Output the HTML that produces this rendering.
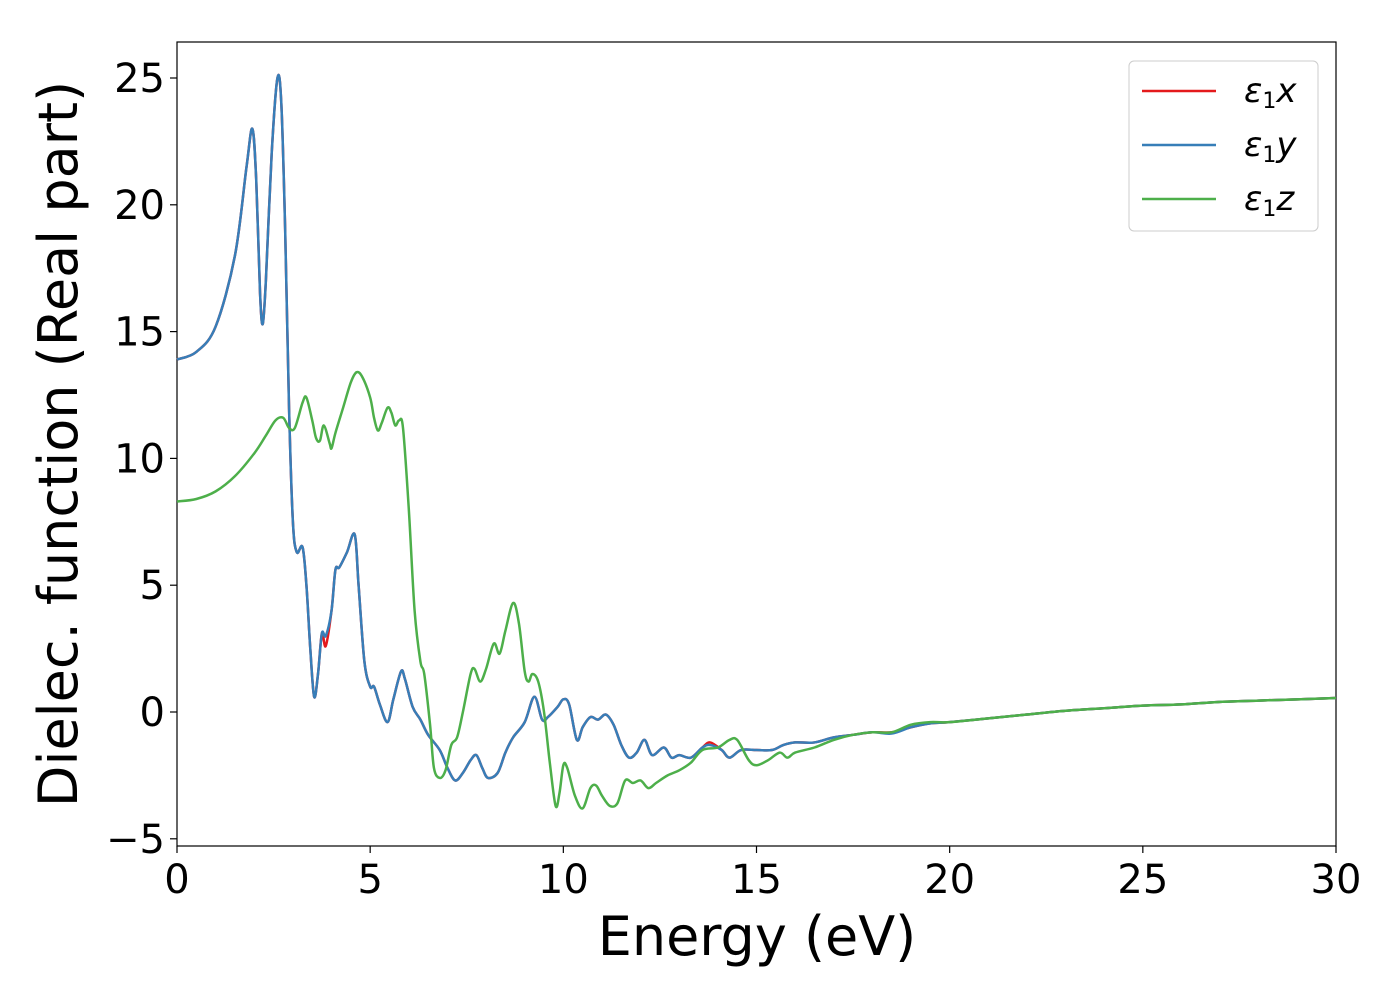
<!DOCTYPE html>
<html><head><meta charset="utf-8"><style>
body{margin:0;background:#fff;}
svg{display:block;font-family:"DejaVu Sans","Liberation Sans",sans-serif;}
</style></head><body>
<svg id="chart" width="1400" height="1000">
<rect x="177" y="42" width="1159" height="804" fill="#fff" stroke="#000" stroke-width="1.2"/>
<g id="series"></g>
<g id="axes"></g>
<text x="757" y="955" font-size="54" text-anchor="middle">Energy (eV)</text>
<text transform="translate(77,444) rotate(-90)" font-size="54" text-anchor="middle">Dielec. function (Real part)</text>
<g>
<rect x="1129" y="61" width="189" height="170" rx="5" fill="#fff" stroke="#ccc" stroke-width="1"/>
<line x1="1142" y1="91" x2="1216" y2="91" stroke="#e41a1c" stroke-width="2.5"/>
<text x="1244" y="102" font-size="34" font-style="italic">ε<tspan font-size="22" dy="6" font-style="normal">1</tspan><tspan dy="-6">x</tspan></text>
<line x1="1142" y1="145" x2="1216" y2="145" stroke="#377eb8" stroke-width="2.5"/>
<text x="1244" y="156" font-size="34" font-style="italic">ε<tspan font-size="22" dy="6" font-style="normal">1</tspan><tspan dy="-6">y</tspan></text>
<line x1="1142" y1="199" x2="1216" y2="199" stroke="#4daf4a" stroke-width="2.5"/>
<text x="1244" y="210" font-size="34" font-style="italic">ε<tspan font-size="22" dy="6" font-style="normal">1</tspan><tspan dy="-6">z</tspan></text>
</g>
</svg>
<script>
const xTicks=[0,5,10,15,20,25,30];
const yTicks=[-5,0,5,10,15,20,25];
const yTickLabels=["−5","0","5","10","15","20","25"];
const energyXY=[0,0.5,1.0,1.5,1.8,1.95,2.05,2.15,2.22,2.3,2.45,2.6,2.7,2.8,2.9,3.0,3.1,3.25,3.35,3.45,3.55,3.65,3.75,3.85,4.0,4.1,4.2,4.4,4.6,4.7,4.85,5.0,5.1,5.25,5.45,5.6,5.8,5.9,6.1,6.3,6.5,6.8,7.0,7.2,7.4,7.6,7.75,7.9,8.05,8.3,8.5,8.7,9.0,9.25,9.45,9.6,9.85,10.0,10.15,10.35,10.5,10.7,10.9,11.1,11.3,11.5,11.7,11.9,12.1,12.3,12.6,12.8,13.0,13.3,13.6,13.8,14.1,14.3,14.6,15.0,15.4,15.7,16.0,16.5,17,17.5,18,18.5,19,19.5,20,21,22,23,24,25,26,27,28,29,30];
const epsX=[13.9,14.2,15.2,18,21.5,23,21,16.5,15.3,17,22,25,24,19,12,7.5,6.3,6.5,5,2.5,0.6,1.5,3.1,2.6,4,5.6,5.7,6.3,7.0,5,2,1,1.0,0.3,-0.4,0.5,1.6,1.3,0.2,-0.3,-0.9,-1.5,-2.2,-2.7,-2.4,-1.9,-1.7,-2.2,-2.6,-2.4,-1.6,-1.0,-0.4,0.6,-0.3,-0.2,0.2,0.5,0.3,-1.1,-0.6,-0.2,-0.3,-0.1,-0.5,-1.3,-1.8,-1.6,-1.1,-1.7,-1.4,-1.8,-1.7,-1.8,-1.4,-1.2,-1.5,-1.8,-1.5,-1.5,-1.5,-1.3,-1.2,-1.2,-1.0,-0.9,-0.8,-0.8,-0.6,-0.45,-0.4,-0.25,-0.1,0.05,0.15,0.25,0.3,0.4,0.45,0.5,0.55];
const epsY=[13.9,14.2,15.2,18,21.5,23,21,16.5,15.3,17,22,25,24,19,12,7.5,6.3,6.5,5,2.5,0.6,1.5,3.1,3.0,4,5.6,5.7,6.3,7.0,5,2,1,1.0,0.3,-0.4,0.5,1.6,1.3,0.2,-0.3,-0.9,-1.5,-2.2,-2.7,-2.4,-1.9,-1.7,-2.2,-2.6,-2.4,-1.6,-1.0,-0.4,0.6,-0.3,-0.2,0.2,0.5,0.3,-1.1,-0.6,-0.2,-0.3,-0.1,-0.5,-1.3,-1.8,-1.6,-1.1,-1.7,-1.4,-1.8,-1.7,-1.8,-1.4,-1.3,-1.5,-1.8,-1.5,-1.5,-1.5,-1.3,-1.2,-1.2,-1.0,-0.9,-0.8,-0.85,-0.6,-0.45,-0.4,-0.25,-0.1,0.05,0.15,0.25,0.3,0.4,0.45,0.5,0.55];
const energyZ=[0,0.5,1.0,1.5,2.0,2.3,2.55,2.75,2.9,3.05,3.25,3.35,3.5,3.6,3.7,3.8,3.95,4.0,4.1,4.3,4.5,4.65,4.8,5.0,5.1,5.2,5.3,5.45,5.55,5.65,5.75,5.85,6.0,6.15,6.3,6.4,6.55,6.65,6.8,6.95,7.1,7.25,7.4,7.6,7.7,7.85,8.0,8.2,8.35,8.5,8.7,8.85,9.0,9.1,9.2,9.35,9.5,9.65,9.8,9.9,10.0,10.1,10.3,10.5,10.7,10.85,11.0,11.2,11.4,11.6,11.8,12.0,12.2,12.4,12.7,13.0,13.3,13.6,14.0,14.3,14.5,14.8,15.0,15.3,15.6,15.8,16.0,16.5,17,17.5,18,18.5,19,19.5,20,21,22,23,24,25,26,27,28,29,30];
const epsZ=[8.3,8.4,8.7,9.3,10.2,10.9,11.5,11.6,11.2,11.2,12.2,12.4,11.5,10.8,10.7,11.3,10.6,10.4,11,12,13.0,13.4,13.2,12.4,11.6,11.1,11.4,12.0,11.8,11.3,11.5,11.2,8,4,2.0,1.5,-0.5,-2.2,-2.6,-2.3,-1.3,-1.0,0,1.5,1.7,1.2,1.7,2.7,2.3,3.2,4.3,3.5,1.6,1.2,1.5,1.2,0,-2,-3.7,-3.2,-2.1,-2.2,-3.3,-3.8,-3.0,-2.9,-3.3,-3.7,-3.6,-2.7,-2.8,-2.7,-3.0,-2.8,-2.5,-2.3,-2.0,-1.5,-1.4,-1.1,-1.1,-1.9,-2.1,-1.9,-1.6,-1.8,-1.6,-1.4,-1.1,-0.9,-0.8,-0.8,-0.5,-0.4,-0.4,-0.25,-0.1,0.05,0.15,0.25,0.3,0.4,0.45,0.5,0.55];

const NS="http://www.w3.org/2000/svg";
const X0=177,X1=1336,Y0=712,Y25=78;
const sx=v=>X0+(X1-X0)*v/30;
const sy=v=>Y0+(Y25-Y0)*v/25;
function pathFor(xs,ys){
  const p=xs.map((x,i)=>[sx(x),sy(ys[i])]);
  let d="M"+p[0][0].toFixed(2)+","+p[0][1].toFixed(2);
  for(let i=0;i<p.length-1;i++){
    const a=p[Math.max(0,i-1)],b=p[i],c=p[i+1],e=p[Math.min(p.length-1,i+2)];
    const c1x=b[0]+(c[0]-a[0])/6,c1y=b[1]+(c[1]-a[1])/6;
    const c2x=c[0]-(e[0]-b[0])/6,c2y=c[1]-(e[1]-b[1])/6;
    d+=" C"+c1x.toFixed(2)+","+c1y.toFixed(2)+" "+c2x.toFixed(2)+","+c2y.toFixed(2)+" "+c[0].toFixed(2)+","+c[1].toFixed(2);
  }
  return d;
}
const sg=document.getElementById("series");
[[energyXY,epsX,"#e41a1c","series-eps1x"],[energyXY,epsY,"#377eb8","series-eps1y"],[energyZ,epsZ,"#4daf4a","series-eps1z"]].forEach(s=>{
  const el=document.createElementNS(NS,"path");
  el.setAttribute("d",pathFor(s[0],s[1]));
  el.setAttribute("fill","none");
  el.setAttribute("stroke",s[2]);
  el.setAttribute("stroke-width","2.5");
  
  
  sg.appendChild(el);
});
const ag=document.getElementById("axes");
xTicks.forEach(t=>{
  const l=document.createElementNS(NS,"line");
  l.setAttribute("x1",sx(t));l.setAttribute("x2",sx(t));l.setAttribute("y1",846);l.setAttribute("y2",853);
  l.setAttribute("stroke","#000");l.setAttribute("stroke-width","1.2");
  
  
  ag.appendChild(l);
  const tx=document.createElementNS(NS,"text");
  tx.setAttribute("x",sx(t));tx.setAttribute("y",893);tx.setAttribute("font-size","40");tx.setAttribute("text-anchor","middle");
  tx.textContent=String(t);
  
  
  ag.appendChild(tx);
});
yTicks.forEach((t,i)=>{
  const l=document.createElementNS(NS,"line");
  l.setAttribute("x1",170);l.setAttribute("x2",177);l.setAttribute("y1",sy(t));l.setAttribute("y2",sy(t));
  l.setAttribute("stroke","#000");l.setAttribute("stroke-width","1.2");
  
  
  ag.appendChild(l);
  const tx=document.createElementNS(NS,"text");
  tx.setAttribute("x",165);tx.setAttribute("y",sy(t)+14);tx.setAttribute("font-size","40");tx.setAttribute("text-anchor","end");
  tx.textContent=yTickLabels[i];
  
  
  ag.appendChild(tx);
});
</script>
</body></html>
